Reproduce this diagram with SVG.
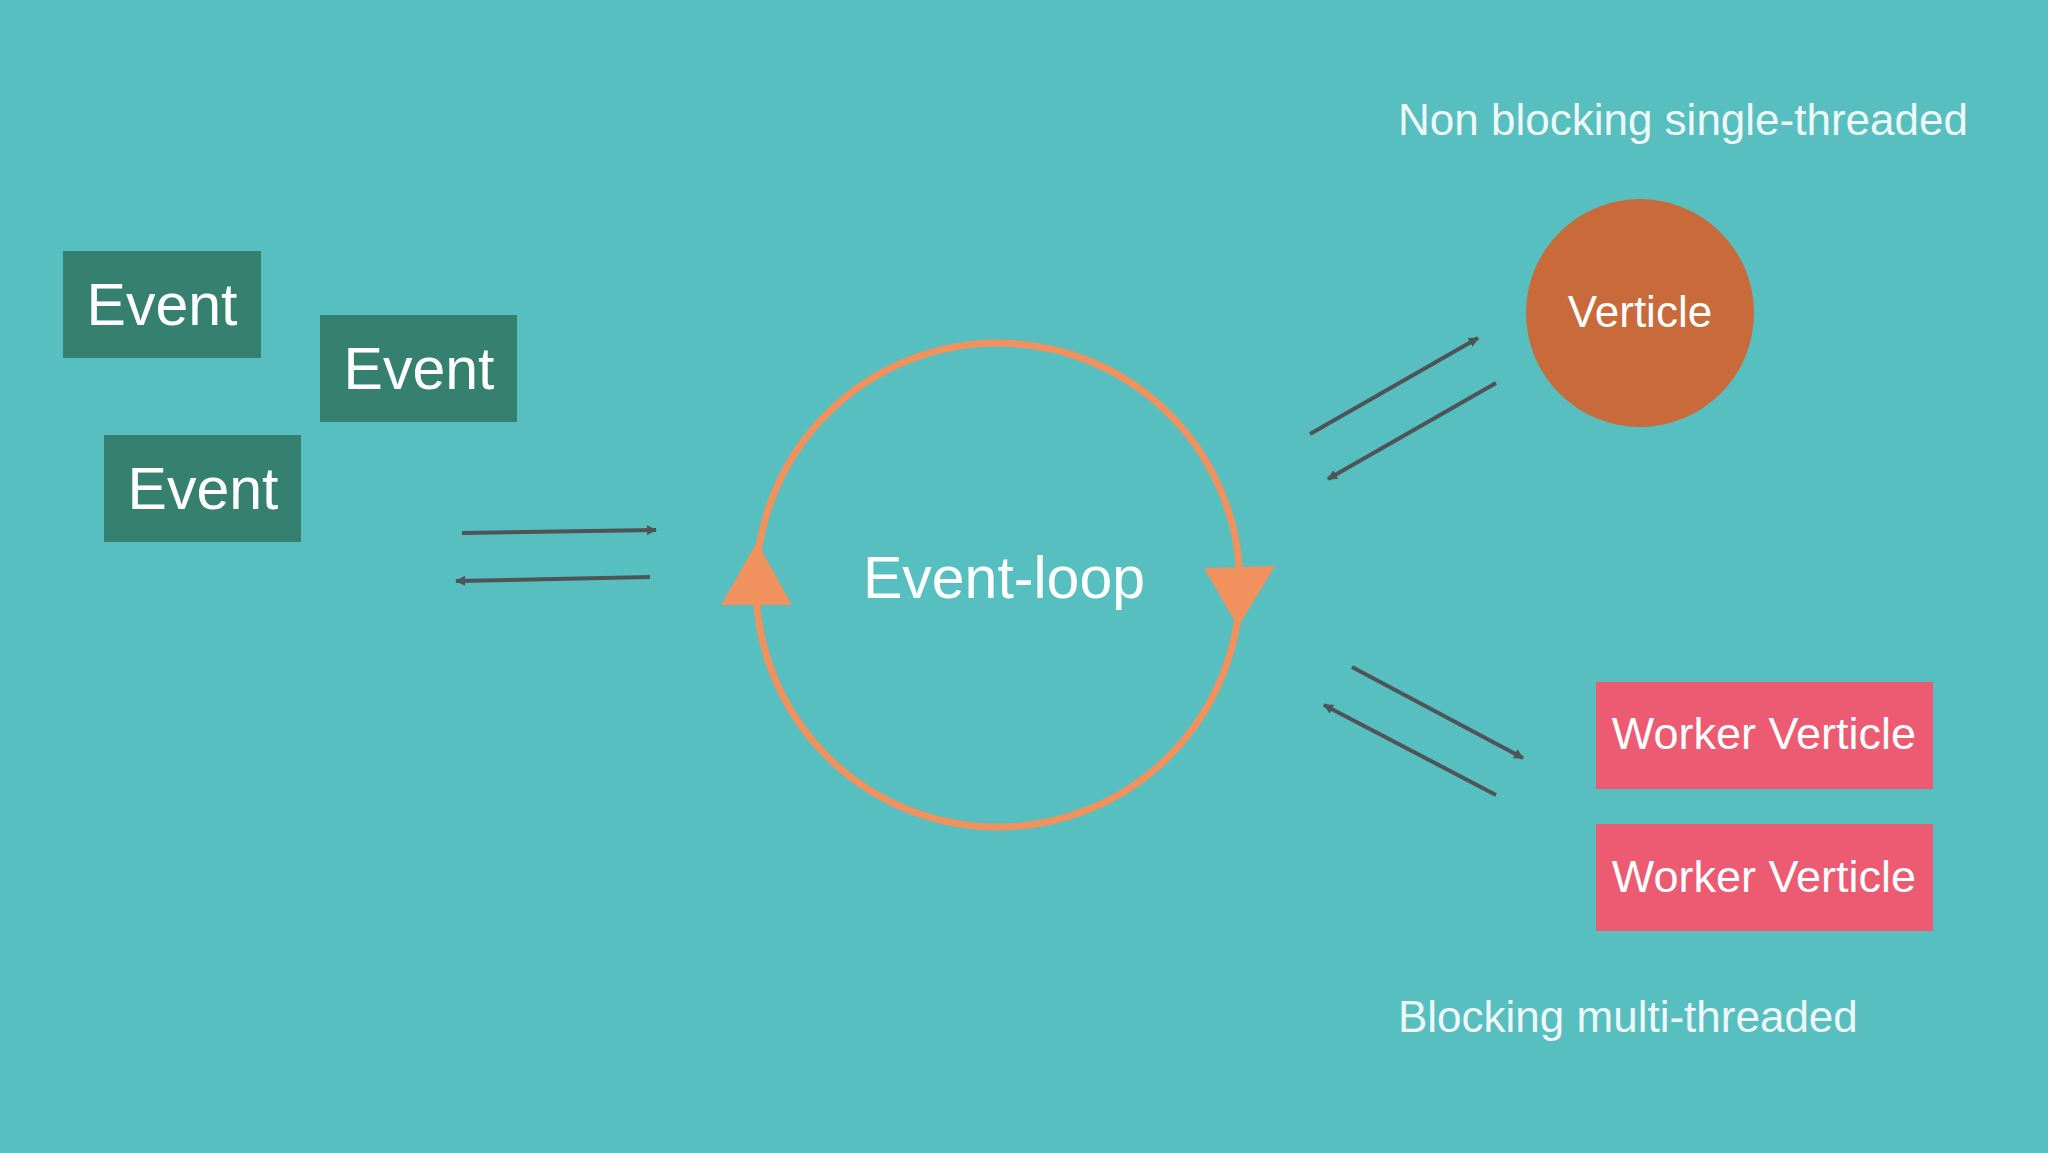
<svg xmlns="http://www.w3.org/2000/svg" width="2048" height="1153" viewBox="0 0 2048 1153">
<style>
.t{font-family:"Liberation Sans",Arial,sans-serif;fill:#FFFFFF}
.ev{fill:#35806F}
.wk{fill:#EC5B72}
.ln{stroke:#4E5458;stroke-width:4;fill:none}
.lbl{font-family:"Liberation Sans",Arial,sans-serif;fill:#EEF8F8;font-size:44px}
</style>
<defs>
<marker id="ah" markerWidth="10" markerHeight="10" refX="9" refY="5" orient="auto" markerUnits="userSpaceOnUse" viewBox="0 0 10 10">
<path d="M0,0 L10,5 L0,10 Z" fill="#4E5458"/>
</marker>
</defs>
<rect width="2048" height="1153" fill="#57BFBF"/>
<g id="event1"><rect class="ev" x="63" y="251" width="198" height="107"/><text class="t" x="162" y="325" font-size="59" text-anchor="middle">Event</text></g>
<g id="event2"><rect class="ev" x="320" y="315" width="197" height="107"/><text class="t" x="419" y="389" font-size="59" text-anchor="middle">Event</text></g>
<g id="event3"><rect class="ev" x="104" y="435" width="197" height="107"/><text class="t" x="203" y="509" font-size="59" text-anchor="middle">Event</text></g>
<g id="eventloop">
<circle cx="998" cy="585" r="242" fill="none" stroke="#F0915E" stroke-width="7"/>
<polygon points="757,542 721,605 792,605" fill="#F0915E"/>
<polygon points="1204,568 1275,566 1238,627" fill="#F0915E"/>
<text class="t" x="1004" y="598" font-size="59" text-anchor="middle">Event-loop</text>
</g>
<g id="verticle"><circle cx="1640" cy="313" r="114" fill="#C96A3A"/><text class="t" x="1640" y="327" font-size="44" text-anchor="middle">Verticle</text></g>
<g id="worker1"><rect class="wk" x="1596" y="682" width="337" height="107"/><text class="t" x="1764" y="749" font-size="45" text-anchor="middle">Worker Verticle</text></g>
<g id="worker2"><rect class="wk" x="1596" y="824" width="337" height="107"/><text class="t" x="1764" y="892" font-size="45" text-anchor="middle">Worker Verticle</text></g>
<g id="connectors">
<line class="ln" x1="462" y1="533" x2="656" y2="530" marker-end="url(#ah)"/>
<line class="ln" x1="650" y1="577" x2="456" y2="581" marker-end="url(#ah)"/>
<line class="ln" x1="1310" y1="434" x2="1478" y2="338" marker-end="url(#ah)"/>
<line class="ln" x1="1496" y1="383" x2="1328" y2="479" marker-end="url(#ah)"/>
<line class="ln" x1="1352" y1="667" x2="1523" y2="758" marker-end="url(#ah)"/>
<line class="ln" x1="1496" y1="795" x2="1324" y2="705" marker-end="url(#ah)"/>
</g>
<text class="lbl" x="1398" y="135">Non blocking single-threaded</text>
<text class="lbl" x="1398" y="1032">Blocking multi-threaded</text>
</svg>
